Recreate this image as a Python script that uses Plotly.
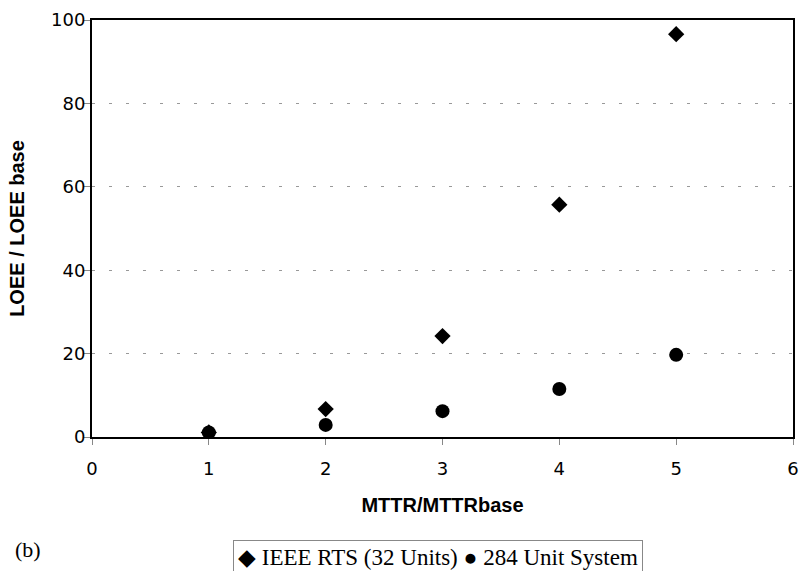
import plotly.graph_objects as go

x_vals = [1, 2, 3, 4, 5]
ieee_rts = [1.1, 6.7, 24.2, 55.7, 96.6]
unit284 = [1.1, 2.9, 6.2, 11.5, 19.7]
x_ticks = [0, 1, 2, 3, 4, 5, 6]
y_ticks = [0, 20, 40, 60, 80, 100]
legend_text = "◆ IEEE RTS (32 Units) ● 284 Unit System"

fig = go.Figure()
fig.add_trace(go.Scatter(x=x_vals, y=ieee_rts, mode="markers", name="IEEE RTS (32 Units)",
                         marker=dict(symbol="diamond", size=12.5, color="black")))
fig.add_trace(go.Scatter(x=x_vals, y=unit284, mode="markers", name="284 Unit System",
                         marker=dict(symbol="circle", size=14, color="black")))

fig.update_layout(
    width=799, height=571,
    margin=dict(l=92, r=6, t=20, b=134, autoexpand=False),
    paper_bgcolor="white", plot_bgcolor="white",
    font=dict(family="Liberation Sans, Arial", color="black"),
    showlegend=False,
    xaxis=dict(range=[0, 6], tickvals=x_ticks, showgrid=False, zeroline=False,
               showline=True, linecolor="black", linewidth=2, mirror=True,
               ticks="outside", ticklen=6, tickcolor="#888888", automargin=False,
               tickfont=dict(family="DejaVu Sans", size=18), ticklabelstandoff=8,
               title=dict(text="<b>MTTR/MTTRbase</b>", font=dict(size=20), standoff=20)),
    yaxis=dict(range=[0, 100], tickvals=y_ticks, showgrid=True, gridcolor="#999999",
               griddash="3px,14px", gridwidth=1, zeroline=False,
               showline=True, linecolor="black", linewidth=2, mirror=True,
               ticks="outside", ticklen=7, tickcolor="#888888", automargin=False,
               tickfont=dict(family="DejaVu Sans", size=18), ticklabelstandoff=-6,
               title=dict(text="<b>LOEE / LOEE base</b>", font=dict(size=20), standoff=21)),
)
fig.add_annotation(text=legend_text, xref="paper", yref="paper", x=0.494, y=-0.248,
                   xanchor="center", yanchor="top", showarrow=False,
                   bordercolor="#888888", borderwidth=1, borderpad=4, bgcolor="white",
                   font=dict(family="Liberation Serif, Times New Roman", size=23, color="black"))
fig.add_annotation(text="(b)", xref="paper", yref="paper", x=-0.113, y=-0.27,
                   xanchor="left", yanchor="middle", showarrow=False,
                   font=dict(family="Liberation Serif, Times New Roman", size=22, color="black"))

fig.write_html("out.html", post_script="document.body.style.margin='0';",
               config={"displayModeBar": False})
